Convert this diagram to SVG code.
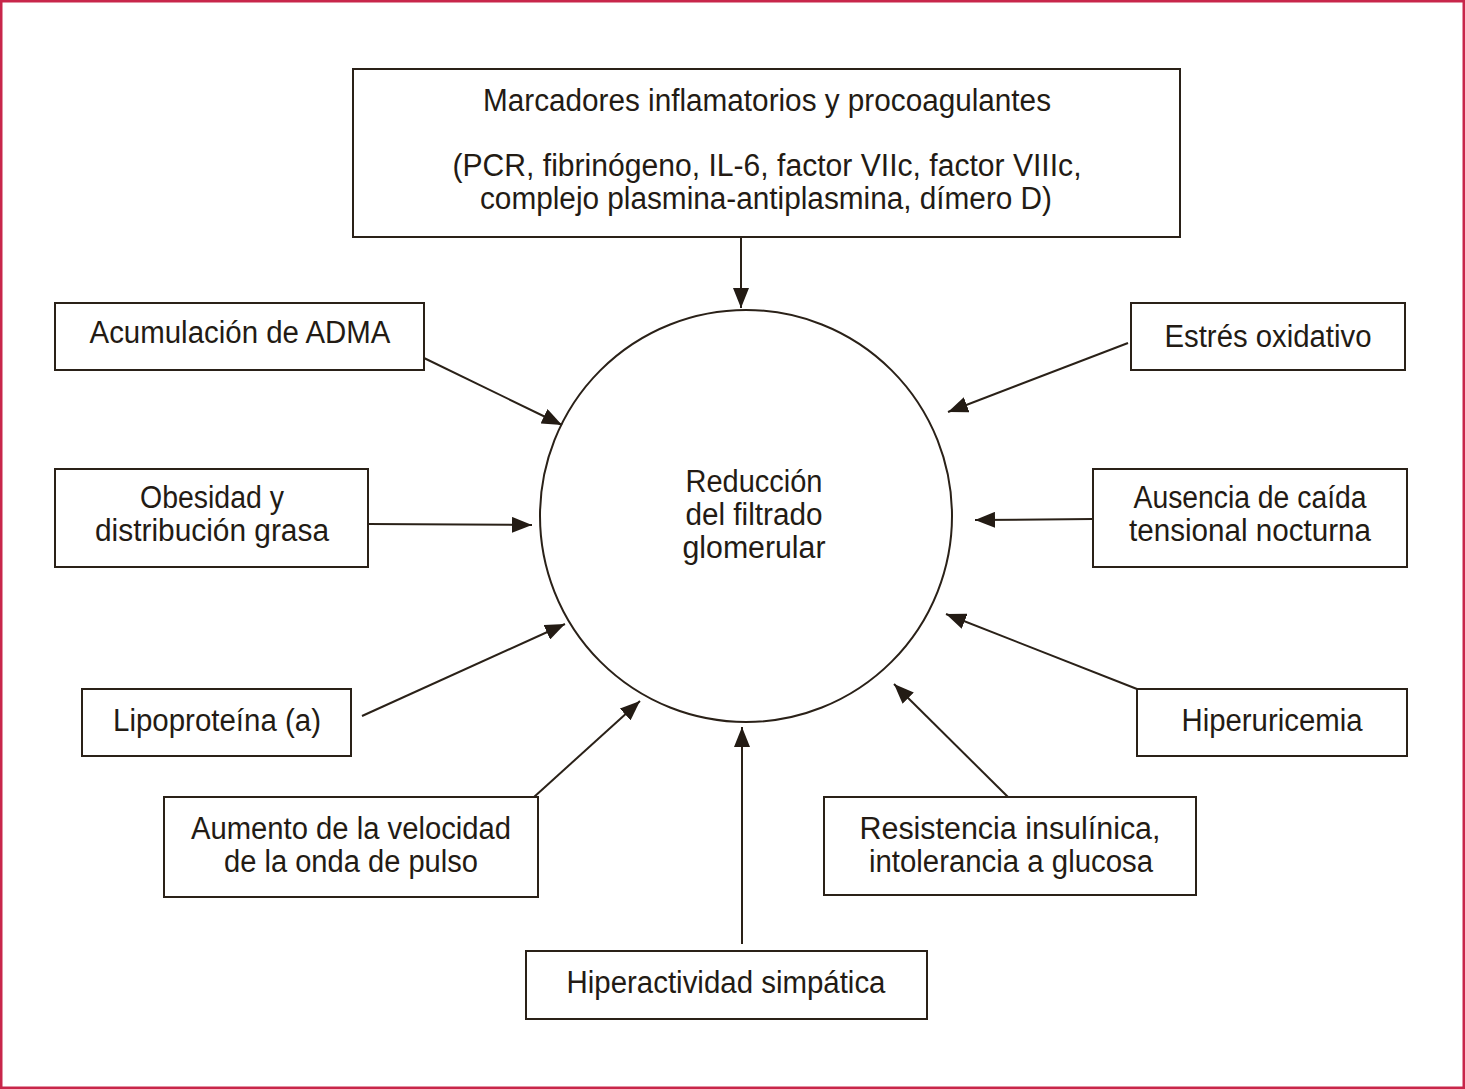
<svg xmlns="http://www.w3.org/2000/svg" width="1465" height="1089" viewBox="0 0 1465 1089">
<style>
.box{fill:#fff;stroke:#2a2118;stroke-width:2}
.t{font-family:"Liberation Sans",Arial,sans-serif;font-size:31px;fill:#231b14;text-anchor:middle}
.c{stroke:#2a2118;stroke-width:2;fill:none;marker-end:url(#ah)}
</style>
<defs>
<marker id="ah" markerUnits="userSpaceOnUse" markerWidth="22" markerHeight="16" refX="20" refY="8" orient="auto">
<path d="M0,0 L20,8 L0,16 Z" fill="#231b14"/>
</marker>
</defs>
<rect x="1" y="1" width="1463" height="1087" fill="#fff" stroke="#c8264a" stroke-width="3"/>
<g id="connectors">
<line class="c" x1="741" y1="237" x2="741" y2="308"/>
<line class="c" x1="424" y1="358" x2="562" y2="425"/>
<line class="c" x1="368" y1="524" x2="532" y2="525"/>
<line class="c" x1="362" y1="716" x2="565" y2="624"/>
<line class="c" x1="534" y1="797" x2="640" y2="701"/>
<line class="c" x1="742" y1="944" x2="742" y2="727"/>
<line class="c" x1="1008" y1="797" x2="894" y2="684"/>
<line class="c" x1="1137" y1="689" x2="946" y2="614"/>
<line class="c" x1="1093" y1="519" x2="975" y2="520"/>
<line class="c" x1="1128" y1="343" x2="948" y2="412"/>
</g>
<g id="center">
<circle cx="746" cy="516" r="206" fill="none" stroke="#2a2118" stroke-width="2"/>
<text class="t" x="754" y="492" textLength="137" lengthAdjust="spacingAndGlyphs">Reducción</text>
<text class="t" x="754" y="525" textLength="137" lengthAdjust="spacingAndGlyphs">del filtrado</text>
<text class="t" x="754" y="558" textLength="143" lengthAdjust="spacingAndGlyphs">glomerular</text>
</g>
<g id="marcadores">
<rect class="box" x="353" y="69" width="827" height="168"/>
<text class="t" x="767" y="111" textLength="568" lengthAdjust="spacingAndGlyphs">Marcadores inflamatorios y procoagulantes</text>
<text class="t" x="767" y="176" textLength="629" lengthAdjust="spacingAndGlyphs">(PCR, fibrinógeno, IL-6, factor VIIc, factor VIIIc,</text>
<text class="t" x="766" y="209" textLength="572" lengthAdjust="spacingAndGlyphs">complejo plasmina-antiplasmina, dímero D)</text>
</g>
<g id="adma">
<rect class="box" x="55" y="303" width="369" height="67"/>
<text class="t" x="240" y="343" textLength="301" lengthAdjust="spacingAndGlyphs">Acumulación de ADMA</text>
</g>
<g id="obesidad">
<rect class="box" x="55" y="469" width="313" height="98"/>
<text class="t" x="212" y="508" textLength="144" lengthAdjust="spacingAndGlyphs">Obesidad y</text>
<text class="t" x="212" y="541" textLength="234" lengthAdjust="spacingAndGlyphs">distribución grasa</text>
</g>
<g id="lipoproteina">
<rect class="box" x="82" y="689" width="269" height="67"/>
<text class="t" x="217" y="731" textLength="208" lengthAdjust="spacingAndGlyphs">Lipoproteína (a)</text>
</g>
<g id="aumento">
<rect class="box" x="164" y="797" width="374" height="100"/>
<text class="t" x="351" y="839" textLength="320" lengthAdjust="spacingAndGlyphs">Aumento de la velocidad</text>
<text class="t" x="351" y="872" textLength="254" lengthAdjust="spacingAndGlyphs">de la onda de pulso</text>
</g>
<g id="hiperactividad">
<rect class="box" x="526" y="951" width="401" height="68"/>
<text class="t" x="726" y="993" textLength="319" lengthAdjust="spacingAndGlyphs">Hiperactividad simpática</text>
</g>
<g id="resistencia">
<rect class="box" x="824" y="797" width="372" height="98"/>
<text class="t" x="1010" y="839" textLength="301" lengthAdjust="spacingAndGlyphs">Resistencia insulínica,</text>
<text class="t" x="1011" y="872" textLength="284" lengthAdjust="spacingAndGlyphs">intolerancia a glucosa</text>
</g>
<g id="hiperuricemia">
<rect class="box" x="1137" y="689" width="270" height="67"/>
<text class="t" x="1272" y="731" textLength="181" lengthAdjust="spacingAndGlyphs">Hiperuricemia</text>
</g>
<g id="ausencia">
<rect class="box" x="1093" y="469" width="314" height="98"/>
<text class="t" x="1250" y="508" textLength="233" lengthAdjust="spacingAndGlyphs">Ausencia de caída</text>
<text class="t" x="1250" y="541" textLength="242" lengthAdjust="spacingAndGlyphs">tensional nocturna</text>
</g>
<g id="estres">
<rect class="box" x="1131" y="303" width="274" height="67"/>
<text class="t" x="1268" y="347" textLength="207" lengthAdjust="spacingAndGlyphs">Estrés oxidativo</text>
</g>
</svg>
